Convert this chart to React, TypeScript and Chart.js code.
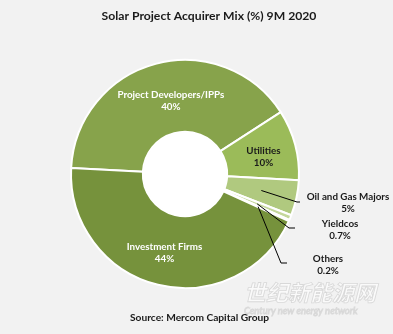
import React, { useEffect, useRef } from "react";
import { Chart, registerables } from "chart.js";

Chart.register(...registerables);

const categories = [
  "Project Developers/IPPs",
  "Utilities",
  "Oil and Gas Majors",
  "Yieldcos",
  "Others",
  "Investment Firms",
];
const shares = [40, 10, 5, 0.7, 0.2, 44];
const shareLabels = ["40%", "10%", "5%", "0.7%", "0.2%", "44%"];
const sliceColors = ["#87a34b", "#9bbb59", "#b0c97f", "#c4d79b", "#d8e4bc", "#76923c"];
const titleText = "Solar Project Acquirer Mix (%) 9M 2020";
const sourceText = "Source: Mercom Capital Group";

const FONT = "Lato, 'Open Sans', sans-serif";

export default function App() {
  const ref = useRef<HTMLCanvasElement | null>(null);

  useEffect(() => {
    if (!ref.current) return;

    const bgPlugin = {
      id: "bg",
      beforeDraw(chart: any) {
        const { ctx, width, height } = chart;
        ctx.save();
        ctx.fillStyle = "#f2f2f2";
        ctx.fillRect(0, 0, width, height);
        ctx.restore();
      },
    };

    const labelPlugin = {
      id: "labels",
      afterDatasetsDraw(chart: any) {
        const ctx = chart.ctx;
        const meta = chart.getDatasetMeta(0);
        const arcs = meta.data;
        const a0 = arcs[0];
        const cx = a0.x, cy = a0.y;
        const inner = a0.innerRadius;
        const outer = a0.outerRadius;

        // white hole
        ctx.save();
        ctx.fillStyle = "#ffffff";
        ctx.beginPath();
        ctx.arc(cx, cy, inner - 0.5, 0, Math.PI * 2);
        ctx.fill();
        ctx.restore();

        const mid = (i: number) => (arcs[i].startAngle + arcs[i].endAngle) / 2;
        const pt = (i: number, r: number) => ({
          x: cx + Math.cos(mid(i)) * r,
          y: cy + Math.sin(mid(i)) * r,
        });
        const rMid = (inner + outer) / 2;

        const text2 = (l1: string, l2: string, x: number, y: number, color: string) => {
          ctx.fillStyle = color;
          ctx.font = `bold 9.8px ${FONT}`;
          ctx.textAlign = "center";
          ctx.textBaseline = "middle";
          ctx.fillText(l1, x, y);
          ctx.fillText(l2, x, y + 12);
        };

        ctx.save();
        // inside labels
        const p0 = pt(0, rMid);
        text2(categories[0], shareLabels[0], p0.x + 6, p0.y - 4, "#ffffff");
        const p5 = pt(5, rMid);
        text2(categories[5], shareLabels[5], p5.x - 2, p5.y - 3, "#ffffff");
        const p1 = pt(1, rMid);
        text2(categories[1], shareLabels[1], p1.x + 3, p1.y - 3, "#1a1a1a");

        // leader lines
        ctx.strokeStyle = "#000000";
        ctx.lineWidth = 1;
        const s2 = pt(2, rMid);
        ctx.beginPath();
        ctx.moveTo(s2.x, s2.y);
        ctx.lineTo(297, 202);
        ctx.lineTo(300, 202);
        ctx.stroke();
        const s3 = pt(3, rMid);
        ctx.beginPath();
        ctx.moveTo(s3.x, s3.y);
        ctx.lineTo(289, 228);
        ctx.lineTo(295, 228);
        ctx.stroke();
        const s4 = pt(4, rMid + 2);
        ctx.beginPath();
        ctx.moveTo(s4.x, s4.y);
        ctx.lineTo(281, 263);
        ctx.lineTo(287, 263);
        ctx.stroke();

        text2(categories[2], shareLabels[2], 348, 197, "#1a1a1a");
        text2(categories[3], shareLabels[3], 340, 224, "#1a1a1a");
        text2(categories[4], shareLabels[4], 328, 259, "#1a1a1a");

        // title & source
        ctx.fillStyle = "#1a1a1a";
        ctx.font = `bold 12.2px ${FONT}`;
        ctx.textAlign = "center";
        ctx.fillText(titleText, 209, 16);
        ctx.font = `bold 10.2px ${FONT}`;
        ctx.textAlign = "left";
        ctx.fillText(sourceText, 130, 318);

        // watermark
        ctx.globalAlpha = 0.6;
        ctx.textBaseline = "alphabetic";
        ctx.font = `italic bold 22px 'Noto Sans CJK SC', sans-serif`;
        ctx.fillStyle = "#ffffff";
        ctx.strokeStyle = "#c4c4c4";
        ctx.lineWidth = 0.8;
        ctx.textAlign = "left";
        ctx.fillText("世纪新能源网", 244, 301);
        ctx.strokeText("世纪新能源网", 244, 301);
        ctx.font = `italic 9.5px ${FONT}`;
        ctx.fillText("Century new energy network", 244, 314);
        ctx.strokeText("Century new energy network", 244, 314);
        ctx.restore();
      },
    };

    const chart = new Chart(ref.current, {
      type: "doughnut",
      data: {
        labels: categories,
        datasets: [
          {
            data: shares,
            backgroundColor: sliceColors,
            borderColor: "#ffffff",
            borderWidth: 2,
          },
        ],
      },
      options: {
        animation: false,
        responsive: false,
        rotation: -87,
        cutout: "37%",
        layout: { padding: { left: 70, right: 93, top: 59, bottom: 45 } },
        plugins: {
          legend: { display: false },
          title: { display: false },
          tooltip: { enabled: false },
        },
      },
      plugins: [bgPlugin, labelPlugin],
    });
    return () => chart.destroy();
  }, []);

  return (
    <div style={{ position: "fixed", left: 0, top: 0, width: 393, height: 334 }}>
      <canvas ref={ref} width={393} height={334} style={{ width: 393, height: 334, display: "block" }} />
    </div>
  );
}
